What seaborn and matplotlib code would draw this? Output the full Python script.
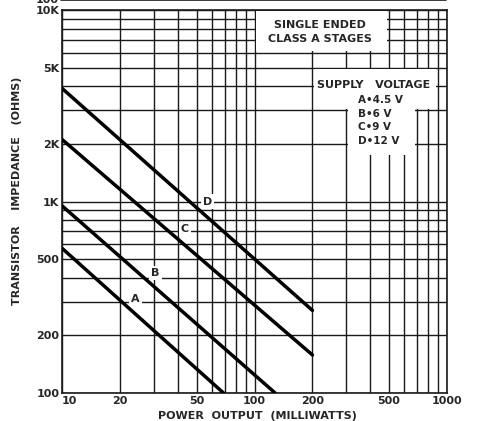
import numpy as np
import pandas as pd
import matplotlib
matplotlib.use("Agg")
import matplotlib.pyplot as plt
import matplotlib.ticker as mticker
from matplotlib.patches import Rectangle
from matplotlib.lines import Line2D
import seaborn as sns

# values (end points of each straight line, log-log)
curves = ["A", "B", "C", "D"]
power_start = [10, 10, 10, 10]
power_end = [69, 128, 200, 200]
ohms_start = [570, 950, 2110, 3900]
ohms_end = [100, 100, 158, 270]

# where the curve letters sit
label_x = [24, 30.5, 43.5, 57]
label_y = [310, 425, 720, 1000]

legend_lines = ["A\u20224.5 V", "B\u20226 V", "C\u20229 V", "D\u202212 V"]

x_ticks = [10, 20, 50, 100, 200, 500, 1000]
x_ticklabels = ["10", "20", "50", "100", "200", "500", "1000"]
y_ticks = [100, 200, 500, 1000, 2000, 5000, 10000]
y_ticklabels = ["100", "200", "500", "1K", "2K", "5K", "10K"]

rows = []
for c, p0, p1, r0, r1 in zip(curves, power_start, power_end, ohms_start, ohms_end):
    rows.append({"curve": c, "mw": p0, "ohms": r0})
    rows.append({"curve": c, "mw": p1, "ohms": r1})
df = pd.DataFrame(rows)

sns.set_style("white")
plt.rcParams['font.family'] = ['DejaVu Sans']

fig = plt.figure(figsize=(4.85, 4.21), dpi=100)
ax = fig.add_axes([0.128, 0.0665, 0.7936, 0.9095])

sns.lineplot(data=df, x="mw", y="ohms", hue="curve", palette=["black"] * 4,
             legend=False, linewidth=2.5, ax=ax, zorder=3)

ax.set_xscale("log")
ax.set_yscale("log")
ax.set_xlim(10, 1000)
ax.set_ylim(100, 10000)

ax.xaxis.set_major_locator(mticker.FixedLocator(x_ticks))
ax.yaxis.set_major_locator(mticker.FixedLocator(y_ticks))
ax.xaxis.set_minor_locator(mticker.LogLocator(base=10, subs=np.arange(1, 10)))
ax.yaxis.set_minor_locator(mticker.LogLocator(base=10, subs=np.arange(1, 10)))
ax.xaxis.set_minor_formatter(mticker.NullFormatter())
ax.yaxis.set_minor_formatter(mticker.NullFormatter())
ax.set_xticklabels(x_ticklabels, fontsize=8, fontweight="bold")
ax.set_yticklabels(y_ticklabels, fontsize=8, fontweight="bold")
ax.xaxis.get_ticklabels()[0].set_horizontalalignment("left")
ax.tick_params(which="both", length=0, pad=2)

ax.set_axisbelow(True)
ax.grid(which="both", color="#1a1a1a", linewidth=1.0)
for s in ax.spines.values():
    s.set_color("#1a1a1a")
    s.set_linewidth(1.2)

ax.set_xlabel("POWER  OUTPUT  (MILLIWATTS)", fontsize=8, fontweight="bold")
ax.set_ylabel("TRANSISTOR    IMPEDANCE   (OHMS)", fontsize=8, fontweight="bold")
ax.xaxis.set_label_coords(0.508, -0.047)
ax.yaxis.set_label_coords(-0.104, 0.527)

# white blank areas that break the grid
for (x0, x1, y0, y1) in [(102, 490, 6100, 9950),
                         (204, 880, 3060, 4930),
                         (306, 686, 1760, 3100)]:
    ax.add_patch(Rectangle((x0, y0), x1 - x0, y1 - y0, facecolor="white",
                           edgecolor="none", zorder=1))

ax.text(220, 8400, "SINGLE ENDED", fontsize=8, fontweight="bold", ha="center", va="center", zorder=4)
ax.text(220, 7050, "CLASS A STAGES", fontsize=8, fontweight="bold", ha="center", va="center", zorder=4)
ax.text(418, 4050, "SUPPLY   VOLTAGE", fontsize=8, fontweight="bold", ha="center", va="center", zorder=4)
ypos = [3390, 2870, 2440, 2060]
for t, yy in zip(legend_lines, ypos):
    ax.text(345, yy, t, fontsize=7.5, fontweight="bold", ha="left", va="center", zorder=4)

for c, lx, ly in zip(curves, label_x, label_y):
    ax.text(lx, ly, c, fontsize=8, fontweight="bold", ha="center", va="center", zorder=4,
            bbox=dict(facecolor="white", edgecolor="none", pad=1.5))

# cut-off text from the chart above
fig.text(0.098, 1.0, "100", fontsize=8, fontweight="bold", ha="center", va="center")
fig.add_artist(Line2D([0.125, 0.92], [0.999, 0.999], color="#1a1a1a", lw=1.2,
                      transform=fig.transFigure))

fig.savefig("out.png", dpi=100, facecolor="white")
